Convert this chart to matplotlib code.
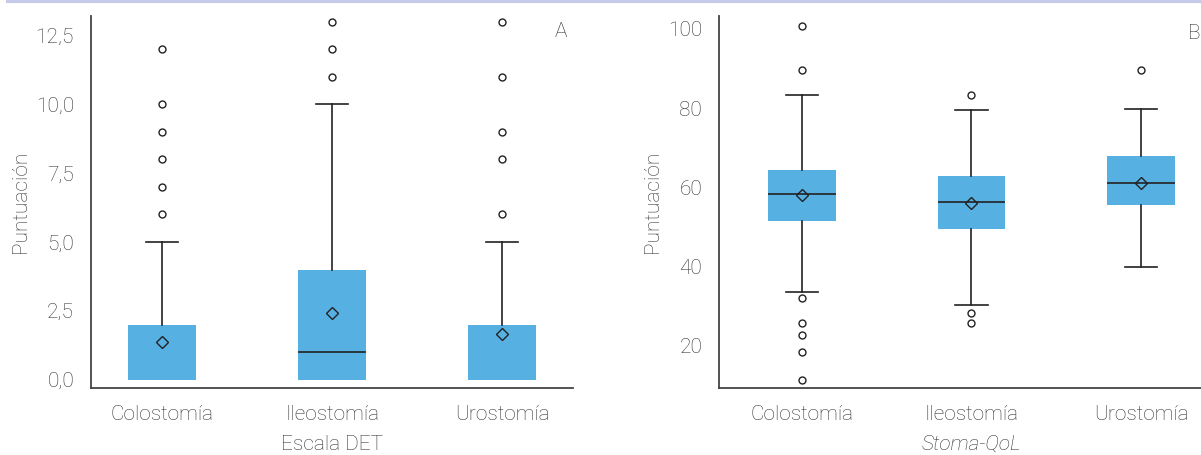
import matplotlib
matplotlib.use('Agg')
import matplotlib.pyplot as plt

# Datos
grupos = ['Colostomía', 'Ileostomía', 'Urostomía']

# Panel A: Escala DET
det_q1 = [0.0, 0.0, 0.0]
det_med = [0.0, 1.0, 0.0]
det_q3 = [2.0, 4.0, 2.0]
det_wlo = [0.0, 0.0, 0.0]
det_whi = [5.0, 10.0, 5.0]
det_media = [1.38, 2.41, 1.65]
det_atipicos = [[6, 7, 8, 9, 10, 12], [11, 12, 13], [6, 8, 9, 11, 13]]

# Panel B: Stoma-QoL
qol_q1 = [51.5, 49.5, 55.6]
qol_med = [58.4, 56.3, 61.2]
qol_q3 = [64.3, 62.8, 68.0]
qol_wlo = [33.5, 30.3, 39.9]
qol_whi = [83.3, 79.5, 79.7]
qol_media = [58.0, 56.1, 61.2]
qol_atipicos = [[100.6, 89.5, 32.1, 25.8, 22.7, 18.5, 11.4], [83.3, 28.2, 25.8], [89.5]]

plt.rcParams['font.family'] = ['Roboto', 'DejaVu Sans']
plt.rcParams['font.weight'] = 'light'
plt.rcParams['axes.labelweight'] = 'light'

gris = '#333333'
azul = '#56b0e2'


def stats(q1, med, q3, wlo, whi, media, atip):
    res = []
    for i in range(len(q1)):
        res.append({'q1': q1[i], 'med': med[i], 'q3': q3[i], 'whislo': wlo[i],
                    'whishi': whi[i], 'mean': media[i], 'fliers': atip[i]})
    return res


def dibujar(ax, st):
    bp = ax.bxp(st, positions=range(len(st)), widths=0.4, capwidths=0.19,
                patch_artist=True, showmeans=True, manage_ticks=False,
                boxprops=dict(facecolor=azul, edgecolor='none'),
                medianprops=dict(color='#222222', linewidth=1.2),
                whiskerprops=dict(color='#222222', linewidth=1.2),
                capprops=dict(color='#222222', linewidth=1.2),
                meanprops=dict(marker='D', markerfacecolor='none', markeredgecolor='#222222',
                               markersize=6, markeredgewidth=1),
                flierprops=dict(marker='o', markerfacecolor='none', markeredgecolor='#222222',
                                markersize=5, markeredgewidth=1))
    # ocultar mediana y bigote inferior cuando coinciden con el borde de la caja
    for i, s in enumerate(st):
        if s['med'] == s['q1']:
            bp['medians'][i].set_visible(False)
        if s['whislo'] == s['q1']:
            bp['caps'][2 * i].set_visible(False)
            bp['whiskers'][2 * i].set_visible(False)
    ax.set_xticks(range(len(grupos)))
    ax.set_xticklabels(grupos)
    for s in ['top', 'right']:
        ax.spines[s].set_visible(False)
    for s in ['left', 'bottom']:
        ax.spines[s].set_color('#444444')
        ax.spines[s].set_linewidth(1.3)
    ax.tick_params(length=0, labelsize=15, colors=gris, pad=12)
    ax.set_ylabel('Puntuación', fontsize=15, color=gris, labelpad=4, fontweight='light')


fig = plt.figure(figsize=(12.01, 4.55), dpi=100)

ax1 = fig.add_axes([0.0755, 0.1473, 0.4019, 0.8175])
dibujar(ax1, stats(det_q1, det_med, det_q3, det_wlo, det_whi, det_media, det_atipicos))
ax1.set_xlim(-0.42, 2.42)
ax1.set_ylim(-0.3, 13.2)
ax1.set_yticks([0, 2.5, 5, 7.5, 10, 12.5])
ax1.set_yticklabels(['0,0', '2,5', '5,0', '7,5', '10,0', '12,5'])
ax1.set_xlabel('Escala DET', fontsize=15, color=gris, labelpad=8, fontweight='light')
ax1.text(0.975, 0.985, 'A', transform=ax1.transAxes, fontsize=15, color=gris,
         ha='center', va='top', fontweight='light')

ax2 = fig.add_axes([0.5985, 0.1473, 0.4207, 0.8175])
dibujar(ax2, stats(qol_q1, qol_med, qol_q3, qol_wlo, qol_whi, qol_media, qol_atipicos))
ax2.set_xlim(-0.49, 2.49)
ax2.set_ylim(9.4, 103.2)
ax2.set_yticks([20, 40, 60, 80, 100])
ax2.set_xlabel('Stoma-QoL', fontsize=15, color=gris, style='italic', labelpad=8,
               fontweight='light')
fig.text(0.9995, 0.9475, 'B', fontsize=15, color=gris, ha='right', va='top',
         fontweight='light')

# banda superior
fig.add_artist(plt.Line2D([0.007, 1.0], [0.997, 0.997], color='#c5cae9', linewidth=3,
                          transform=fig.transFigure))

fig.savefig('out.png', dpi=100)
